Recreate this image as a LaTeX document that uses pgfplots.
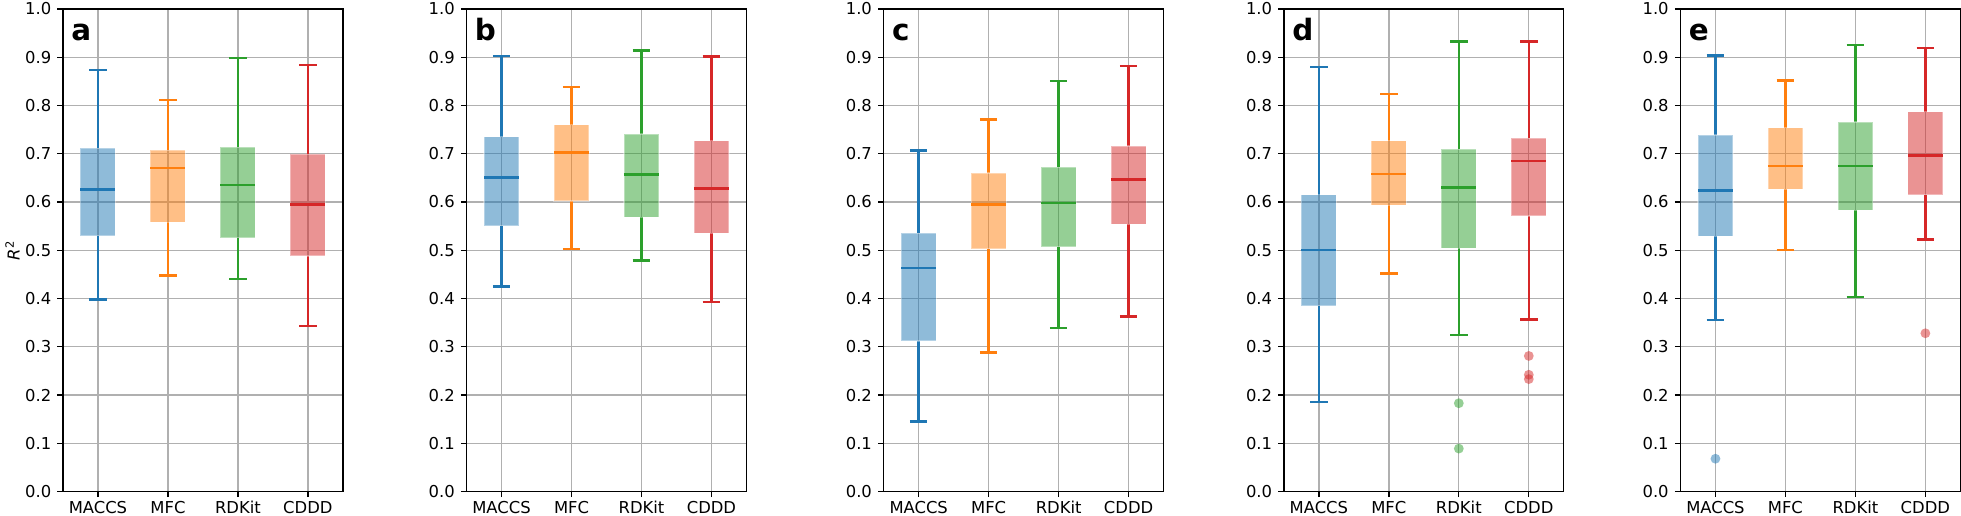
\documentclass[border=0pt]{standalone}
\usepackage{fontspec}
\setmainfont{DejaVu Sans}
\usepackage{pgfplots}
\pgfplotsset{compat=1.18}
\usepgfplotslibrary{statistics}
\definecolor{cA}{HTML}{1F77B4}
\definecolor{cB}{HTML}{FF7F0E}
\definecolor{cC}{HTML}{2CA02C}
\definecolor{cD}{HTML}{D62728}
\definecolor{gridgray}{HTML}{B0B0B0}

\pgfplotsset{
  panel/.style={
    scale only axis, width=140pt, height=241.35pt,
    anchor=south west,
    xmin=0.5, xmax=4.5, ymin=0, ymax=1,
    xtick={1,2,3,4}, xticklabels={MACCS,MFC,RDKit,CDDD},
    ytick={0,0.1,0.2,0.3,0.4,0.5,0.6,0.7,0.8,0.9,1.0},
    yticklabel style={/pgf/number format/fixed, /pgf/number format/fixed zerofill, /pgf/number format/precision=1},
    /pgf/number format/assume math mode=true,
    xtick pos=bottom, ytick pos=left,
    tick align=outside, major tick length=2.8pt,
    tick style={black, line width=0.65pt},
    axis line style={line width=0.65pt},
    grid=major, major grid style={color=gridgray, line width=0.65pt},
    tick label style={font=\fontsize{8.2}{9.8}\selectfont, inner sep=0pt},
    xticklabel style={yshift=-1.9pt},
    yticklabel style={xshift=-2.9pt},
    boxplot/draw direction=y,
    every axis y label/.style={at={(rel axis cs:0,0.5)}, xshift=-25.25pt, rotate=90, anchor=center, inner sep=0pt, font=\fontsize{8.2}{9.8}\selectfont},
  },
  outl/.style={only marks, mark=*, mark size=2.46pt, mark options={draw opacity=0, fill=#1, fill opacity=0.5}},
}
% colour, position, lower whisker, lower quartile, median, upper quartile, upper whisker
\newcommand{\bx}[7]{%
  \addplot[#1, line width=1.23pt,
    boxplot prepared={draw position=#2, draw direction=y,
      lower whisker=#3, lower quartile=#4, median=#5,
      upper quartile=#6, upper whisker=#7,
      box extend=0.5, whisker extend=0.25,
      every box/.style={draw=white, draw opacity=0.35, line width=0.6pt, fill=#1, fill opacity=0.5},
      every median/.style={draw=#1, line width=1.23pt},
      every whisker/.style={draw=#1, line width=1.23pt}}]
    coordinates {};%
}
\newcommand{\letter}[1]{%
  \node[anchor=base west, inner sep=0pt, xshift=4pt, yshift=-15.8pt, font=\bfseries\fontsize{14.7}{16}\selectfont]
    at (rel axis cs:0,1) {#1};%
}

\begin{document}%
\begin{tikzpicture}
\path (0,0) rectangle (980.5pt,258pt);
\begin{axis}[panel, at={(31.5pt,12.15pt)}, ylabel={\textit{R}\textsuperscript{2}}]
  \bx{cA}{1}{0.398}{0.530}{0.626}{0.711}{0.874}
  \bx{cB}{2}{0.448}{0.558}{0.670}{0.707}{0.811}
  \bx{cC}{3}{0.440}{0.526}{0.635}{0.713}{0.899}
  \bx{cD}{4}{0.343}{0.488}{0.595}{0.699}{0.884}
  \letter{a}
\end{axis}
\begin{axis}[panel, at={(233.35pt,12.15pt)}]
  \bx{cA}{1}{0.425}{0.551}{0.651}{0.735}{0.903}
  \bx{cB}{2}{0.503}{0.602}{0.703}{0.760}{0.838}
  \bx{cC}{3}{0.479}{0.568}{0.657}{0.741}{0.914}
  \bx{cD}{4}{0.393}{0.535}{0.628}{0.727}{0.902}
  \letter{b}
\end{axis}
\begin{axis}[panel, at={(442pt,12.15pt)}]
  \bx{cA}{1}{0.145}{0.312}{0.463}{0.535}{0.707}
  \bx{cB}{2}{0.288}{0.503}{0.595}{0.660}{0.771}
  \bx{cC}{3}{0.339}{0.507}{0.598}{0.672}{0.851}
  \bx{cD}{4}{0.363}{0.554}{0.647}{0.716}{0.882}
  \letter{c}
\end{axis}
\begin{axis}[panel, at={(642.15pt,12.15pt)}]
  \bx{cA}{1}{0.186}{0.385}{0.501}{0.615}{0.880}
  \bx{cB}{2}{0.452}{0.593}{0.658}{0.727}{0.824}
  \bx{cC}{3}{0.324}{0.504}{0.630}{0.709}{0.933}
  \bx{cD}{4}{0.357}{0.571}{0.685}{0.732}{0.933}
  \addplot[outl=cC] coordinates {(3,0.183) (3,0.089)};
  \addplot[outl=cD] coordinates {(4,0.281) (4,0.242) (4,0.233)};
  \letter{d}
\end{axis}
\begin{axis}[panel, at={(840.5pt,12.15pt)}]
  \bx{cA}{1}{0.356}{0.529}{0.624}{0.739}{0.904}
  \bx{cB}{2}{0.501}{0.626}{0.675}{0.754}{0.852}
  \bx{cC}{3}{0.403}{0.583}{0.675}{0.766}{0.925}
  \bx{cD}{4}{0.522}{0.615}{0.696}{0.787}{0.919}
  \addplot[outl=cA] coordinates {(1,0.068)};
  \addplot[outl=cD] coordinates {(4,0.328)};
  \letter{e}
\end{axis}
\end{tikzpicture}%
\end{document}
